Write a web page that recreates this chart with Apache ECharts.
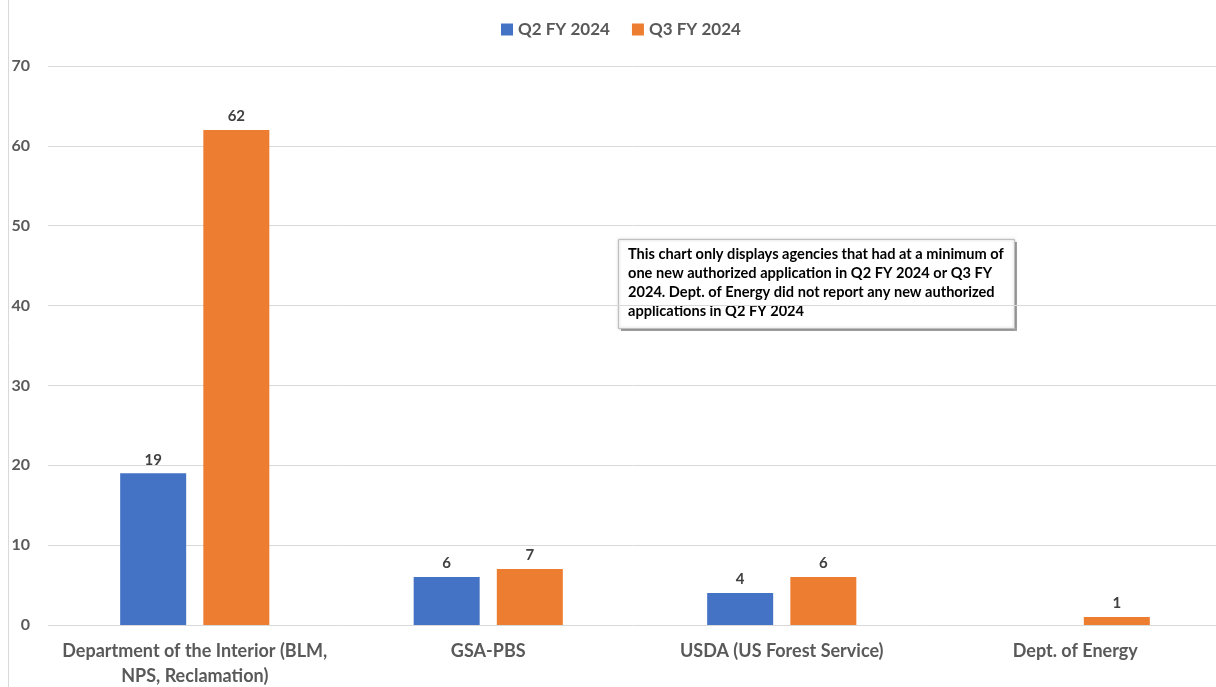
<!DOCTYPE html>
<html>
<head>
<meta charset="utf-8">
<script src="https://cdn.jsdelivr.net/npm/echarts@6/dist/echarts.min.js"></script>
<style>html,body{margin:0;padding:0;background:#fff}#c{width:1216px;height:687px}</style>
</head>
<body>
<div id="c"></div>
<script>
var categories = ["Department of the Interior (BLM,\nNPS, Reclamation)", "GSA-PBS", "USDA (US Forest Service)", "Dept. of Energy"];
var seriesNames = ["Q2 FY 2024", "Q3 FY 2024"];
var q2Values = [19, 6, 4, null];
var q3Values = [62, 7, 6, 1];
var noteText = "This chart only displays agencies that had at a minimum of\none new authorized application in Q2 FY 2024 or Q3 FY\n2024. Dept. of Energy did not report any new authorized\napplications in Q2 FY 2024";

var font = "Lato, 'Open Sans', sans-serif";
var chart = echarts.init(document.getElementById('c'));
chart.setOption({
  animation: false,
  textStyle: {fontFamily: font},
  legend: {
    top: 16, left: 496,
    itemWidth: 12, itemHeight: 12, itemGap: 22,
    icon: 'rect',
    textStyle: {fontSize: 17, fontWeight: 'bold', color: '#595959', fontFamily: font},
    data: seriesNames
  },
  grid: {left: 48, right: -6, top: 66, bottom: 62, containLabel: false, outerBoundsMode: 'none'},
  xAxis: {
    type: 'category', data: categories,
    axisLine: {show: false}, axisTick: {show: false},
    axisLabel: {fontSize: 18, fontWeight: 'bold', color: '#595959', margin: 14, lineHeight: 25, fontFamily: font, interval: 0}
  },
  yAxis: {
    type: 'value', min: 0, max: 70, interval: 10,
    splitLine: {lineStyle: {color: '#d9d9d9'}},
    axisLine: {show: false}, axisTick: {show: false},
    axisLabel: {fontSize: 16, fontWeight: 'bold', color: '#595959', margin: 18, fontFamily: font}
  },
  series: [
    {name: seriesNames[0], type: 'bar', data: q2Values, barWidth: 66, barGap: '26%',
     itemStyle: {color: '#4472c4'},
     label: {show: true, position: 'top', distance: 6, fontSize: 15, fontWeight: 'bold', color: '#404040', fontFamily: font}},
    {name: seriesNames[1], type: 'bar', data: q3Values, barWidth: 66, barGap: '26%',
     itemStyle: {color: '#ed7d31'},
     label: {show: true, position: 'top', distance: 6, fontSize: 15, fontWeight: 'bold', color: '#404040', fontFamily: font}}
  ],
  graphic: [
    {type: 'line', shape: {x1: 8.5, y1: 0, x2: 8.5, y2: 687}, style: {stroke: '#d9d9d9', lineWidth: 1}},
    {type: 'rect', left: 621, top: 242, shape: {width: 396, height: 89},
     style: {fill: '#a6a6a6'}},
    {type: 'rect', left: 618, top: 239, shape: {width: 396, height: 89},
     style: {fill: '#ffffff', stroke: '#bfbfbf', lineWidth: 1, shadowColor: 'rgba(0,0,0,0.25)', shadowBlur: 3}},
    {type: 'text', left: 628, top: 245,
     style: {text: noteText, fontSize: 14.6, fontWeight: 'bold', fill: '#000000', lineHeight: 19, fontFamily: font}}
  ]
});
</script>
</body>
</html>
